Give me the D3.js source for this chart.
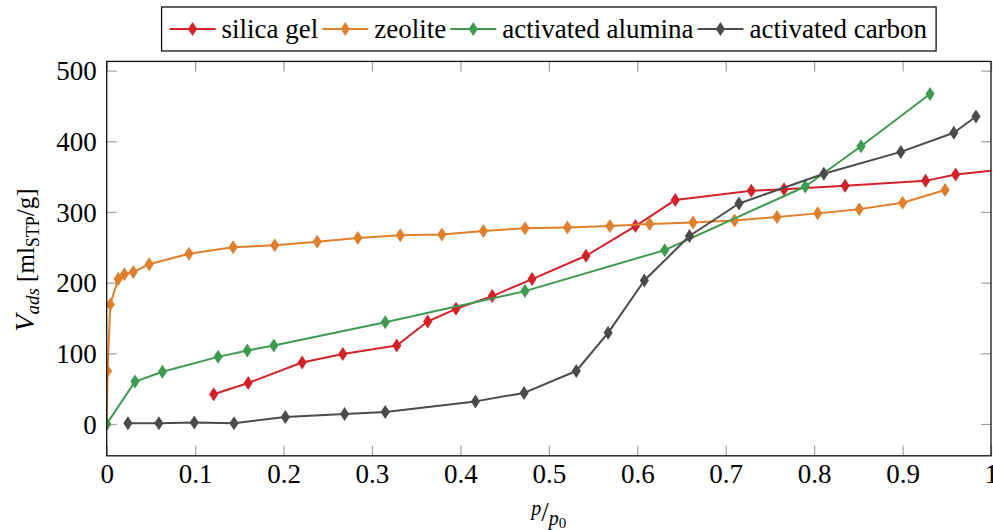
<!DOCTYPE html>
<html>
<head>
<meta charset="utf-8">
<script src="https://cdn.jsdelivr.net/npm/d3@7"></script>
<style>
  body { margin: 0; background: #fff; }
  svg { font-family: "Liberation Serif", "DejaVu Serif", serif; }
  .tick text { font-family: "Liberation Serif", "DejaVu Serif", serif; font-size: 27px; fill: #000; }
  .tick line { stroke: #a0a0a0; stroke-width: 1.2; }
</style>
</head>
<body>
<div class="main"></div>
<script>
const w = 993, h = 530;

// data (p/p0 , V_ads)
const silicaX = [0.121, 0.160, 0.221, 0.267, 0.328, 0.363, 0.395, 0.436, 0.481, 0.542, 0.598, 0.643, 0.729, 0.766, 0.835, 0.926, 0.960, 1.03];
const silicaY = [42, 58, 87, 99, 111, 145, 163, 181, 205, 238, 280, 317, 330, 332, 337, 344, 353, 362];

const zeoliteX = [0, 0.001, 0.004, 0.013, 0.020, 0.030, 0.048, 0.093, 0.143, 0.190, 0.238, 0.284, 0.332, 0.379, 0.426, 0.473, 0.521, 0.569, 0.614, 0.663, 0.710, 0.758, 0.804, 0.851, 0.900, 0.948];
const zeoliteY = [0, 75, 169, 205, 212, 215, 226, 241, 250, 253, 258, 263, 267, 268, 273, 277, 278, 280, 283, 285, 288, 293, 298, 304, 313, 331];

const aluminaX = [0, 0.032, 0.063, 0.126, 0.159, 0.189, 0.315, 0.473, 0.631, 0.790, 0.853, 0.931];
const aluminaY = [0, 60, 74, 95, 104, 111, 144, 188, 246, 336, 393, 467];

const carbonX = [0.024, 0.059, 0.099, 0.144, 0.202, 0.269, 0.315, 0.417, 0.472, 0.531, 0.567, 0.608, 0.659, 0.715, 0.811, 0.898, 0.958, 0.983];
const carbonY = [1, 1, 2, 1, 10, 14, 17, 32, 44, 75, 129, 203, 266, 312, 354, 385, 412, 435];

const seriesNames = ['silica gel', 'zeolite', 'activated alumina', 'activated carbon'];
const seriesColors = ['#d3222a', '#e07f2c', '#3d9a4e', '#4b4b4e'];
const seriesX = [silicaX, zeoliteX, aluminaX, carbonX];
const seriesY = [silicaY, zeoliteY, aluminaY, carbonY];

const xTicks = [0, 0.1, 0.2, 0.3, 0.4, 0.5, 0.6, 0.7, 0.8, 0.9, 1];
const xTickLabels = ['0', '0.1', '0.2', '0.3', '0.4', '0.5', '0.6', '0.7', '0.8', '0.9', '1'];
const yTicks = [0, 100, 200, 300, 400, 500];
const yMin = -45, yMax = 513;

const x = d3.scaleLinear().domain([0, 1]).range([106.7, 991]);
const y = d3.scaleLinear().domain([0, 500]).range([424, 70.6]);

const svg = d3.select('.main')
    .append('svg')
    .attr('width', w)
    .attr('height', h)

const x0 = x(0), x1 = x(1), yTop = y(yMax), yBot = y(yMin);

svg.append('clipPath')
    .attr('id', 'plotclip')
    .append('rect')
    .attr('x', x0)
    .attr('y', yTop)
    .attr('width', x1 - x0)
    .attr('height', yBot - yTop)

// axes, ticks pointing inward
const axBottom = svg.append('g')
    .attr('transform', `translate(0,${yBot})`)
    .call(d3.axisBottom(x).tickValues(xTicks).tickSizeInner(-10).tickSizeOuter(0).tickPadding(8)
        .tickFormat((d, i) => xTickLabels[i]))
const axTop = svg.append('g')
    .attr('transform', `translate(0,${yTop})`)
    .call(d3.axisTop(x).tickValues(xTicks).tickSizeInner(-10).tickSizeOuter(0).tickFormat(''))
const axLeft = svg.append('g')
    .attr('transform', `translate(${x0},0)`)
    .call(d3.axisLeft(y).tickValues(yTicks).tickSizeInner(-10).tickSizeOuter(0).tickPadding(10))
const axRight = svg.append('g')
    .attr('transform', `translate(${x1},0)`)
    .call(d3.axisRight(y).tickValues(yTicks).tickSizeInner(-10).tickSizeOuter(0).tickFormat(''))

;[axBottom, axTop, axLeft, axRight].forEach(a => a.select('.domain').remove())
axLeft.selectAll('.tick text').attr('dy', '0.34em')

// the data
const diamond = 'M0,-7L4.6,0L0,7L-4.6,0Z';
const plot = svg.append('g').attr('clip-path', 'url(#plotclip)')

seriesNames.forEach((name, s) => {
    const pts = seriesX[s].map((v, i) => [v, seriesY[s][i]])
    plot.append('path')
        .datum(pts)
        .attr('fill', 'none')
        .attr('stroke', seriesColors[s])
        .attr('stroke-width', 2)
        .attr('stroke-linejoin', 'round')
        .attr('d', d3.line().x(d => x(d[0])).y(d => y(d[1])))
    plot.selectAll(null)
        .data(pts)
        .enter()
        .append('path')
        .attr('d', diamond)
        .attr('fill', seriesColors[s])
        .attr('transform', d => `translate(${x(d[0])},${y(d[1])})`)
})

// frame
svg.append('rect')
    .attr('x', x0)
    .attr('y', yTop)
    .attr('width', x1 - x0)
    .attr('height', yBot - yTop)
    .attr('fill', 'none')
    .attr('stroke', '#111')
    .attr('stroke-width', 1.3)

// axis labels
const xl = svg.append('text')
    .attr('x', (x0 + x1) / 2)
    .attr('y', 521)
    .attr('text-anchor', 'middle')
    .attr('font-size', 27)
    .attr('font-style', 'italic')
xl.append('tspan').attr('font-size', 20).attr('dy', -6).text('p')
xl.append('tspan').attr('font-style', 'normal').attr('dy', 6).text('/')
xl.append('tspan').attr('font-size', 20).attr('dy', 4).text('p')
xl.append('tspan').attr('font-size', 15).attr('font-style', 'normal').attr('dy', 3).text('0')

const yl = svg.append('text')
    .attr('transform', `translate(34,260) rotate(-90)`)
    .attr('text-anchor', 'middle')
    .attr('font-size', 25)
yl.append('tspan').attr('font-style', 'italic').attr('font-size', 28).text('V')
yl.append('tspan').attr('font-style', 'italic').attr('font-size', 19).attr('dy', 5).text('ads')
yl.append('tspan').attr('dy', -5).text(' [ml')
yl.append('tspan').attr('font-size', 18).attr('dy', 5).text('STP')
yl.append('tspan').attr('dy', -5).text('/g]')

// legend
const legend = svg.append('g').attr('class', 'legend')
const box = legend.append('rect')
    .attr('fill', '#fff')
    .attr('stroke', '#111')
    .attr('stroke-width', 1.3)
let cx = 8
seriesNames.forEach((name, s) => {
    const g = legend.append('g').attr('transform', `translate(${cx},0)`)
    g.append('line')
        .attr('x1', 0).attr('x2', 46)
        .attr('y1', 0).attr('y2', 0)
        .attr('stroke', seriesColors[s])
        .attr('stroke-width', 2)
    g.append('path')
        .attr('d', diamond)
        .attr('fill', seriesColors[s])
        .attr('transform', 'translate(23,0)')
    const t = g.append('text')
        .attr('x', 52)
        .attr('y', 9)
        .attr('font-size', 27)
        .text(name)
    cx += 52 + t.node().getComputedTextLength() + 4
})
const lw = cx + 5
box.attr('x', 0).attr('y', -22).attr('width', lw).attr('height', 44)
legend.attr('transform', `translate(${(x0 + x1) / 2 - lw / 2},29)`)
</script>
</body>
</html>
